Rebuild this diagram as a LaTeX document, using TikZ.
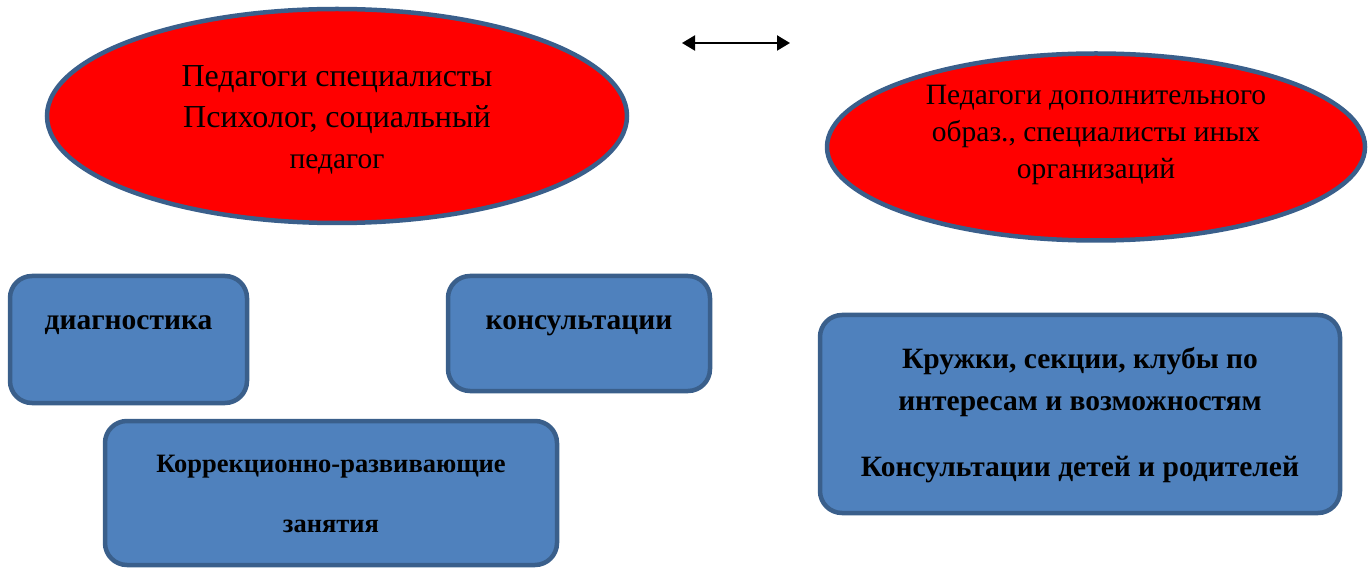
\documentclass[tikz,border=0pt]{standalone}
\usepackage{fontspec}
\setmainfont{Liberation Serif}
\usetikzlibrary{shapes.geometric,arrows.meta,calc}
\definecolor{edgeblue}{HTML}{3A5F8B}
\definecolor{boxblue}{HTML}{4F81BD}
\definecolor{ovalred}{HTML}{FF0000}
\tikzset{
  oval/.style={ellipse, draw=edgeblue, fill=ovalred, line width=4.5pt, inner sep=0pt},
  card/.style={rectangle, rounded corners=22pt, draw=edgeblue, fill=boxblue, line width=4.5pt, inner sep=0pt},
  txt/.style={align=center, inner sep=0pt, text=black},
  link/.style={line width=2.2pt, {Triangle[length=13pt,width=15pt]}-{Triangle[length=13pt,width=15pt]}}
}
\begin{document}
\begin{tikzpicture}[x=1pt,y=-1pt]
\useasboundingbox (0,0) rectangle (1371,569);
% ovals
\node[oval, minimum width=580pt, minimum height=214pt] (e1) at (337,116) {};
\node[txt, font=\fontsize{32}{41}\selectfont] (t1) at ($(e1.center)+(0,4)$)
  {Педагоги специалисты\\Психолог, социальный\\{\fontsize{29.5}{41}\selectfont педагог}};
\node[oval, minimum width=538pt, minimum height=187pt] (e2) at (1096,147) {};
\node[txt, font=\fontsize{29.5}{37}\selectfont] (t2) at ($(e2.center)+(0,-12.5)$)
  {Педагоги дополнительного\\образ., специалисты иных\\организаций};
% arrow
\coordinate (al) at (682,43);
\coordinate (ar) at (790,43);
\draw[link] (al) -- (ar);
% boxes
\node[card, minimum width=237pt, minimum height=127pt] (b1) at (128.5,339.5) {};
\node[txt, font=\bfseries\fontsize{29.5}{42}\selectfont] (bt1) at ($(b1.center)+(0,-14.5)$) {диагностика};
\node[card, minimum width=262pt, minimum height=115pt] (b2) at (579,333.5) {};
\node[txt, font=\bfseries\fontsize{29.5}{42}\selectfont] (bt2) at ($(b2.center)+(0,-8)$) {консультации};
\node[card, minimum width=452pt, minimum height=144pt] (b3) at (331,493) {};
\node[txt, font=\bfseries\fontsize{26.5}{60}\selectfont] (bt3) at ($(b3.center)+(0,1)$) {Коррекционно-развивающие\\занятия};
\node[card, minimum width=520pt, minimum height=198pt] (b4) at (1080,414) {};
\node[txt, font=\bfseries\fontsize{29.5}{42}\selectfont] (bt4) at ($(b4.center)+(0,1)$)
  {Кружки, секции, клубы по\\интересам и возможностям\\[24pt]Консультации детей и родителей};
\end{tikzpicture}
\end{document}
